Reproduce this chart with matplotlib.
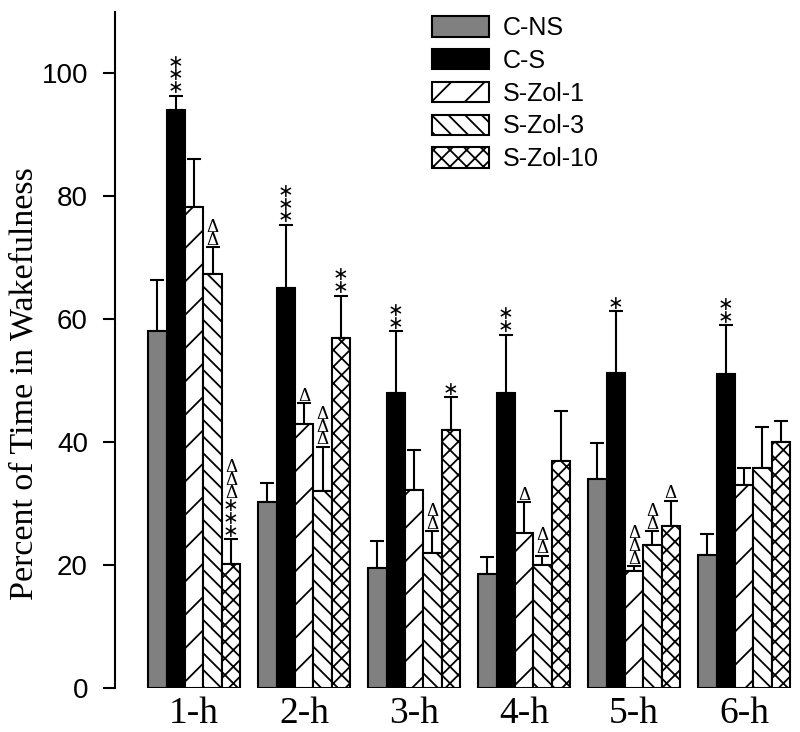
import numpy as np
import matplotlib
matplotlib.use('Agg')
import matplotlib.pyplot as plt

#Data (mean and length of upper error bar)
hours = ['1-h', '2-h', '3-h', '4-h', '5-h', '6-h']
groups = ['C-NS', 'C-S', 'S-Zol-1', 'S-Zol-3', 'S-Zol-10']

c_ns = [58.0, 30.2, 19.5, 18.6, 34.0, 21.6]
c_s = [94.0, 65.0, 48.0, 48.0, 51.2, 51.0]
zol1 = [78.3, 43.0, 32.2, 25.2, 19.0, 33.0]
zol3 = [67.3, 32.0, 22.0, 20.0, 23.3, 35.8]
zol10 = [20.2, 57.0, 42.0, 37.0, 26.3, 40.0]

c_ns_err = [8.3, 3.1, 4.5, 2.7, 5.8, 3.4]
c_s_err = [2.3, 10.3, 10.0, 9.5, 10.1, 8.0]
zol1_err = [7.7, 3.3, 6.6, 5.0, 0.8, 2.8]
zol3_err = [4.4, 7.2, 3.5, 1.5, 2.2, 6.7]
zol10_err = [4.0, 6.8, 5.3, 8.0, 4.2, 3.5]

#significance marks, bottom to top, per hour
c_s_marks = ['***', '***', '**', '**', '*', '**']
zol1_marks = ['', 'Δ', '', 'Δ', 'ΔΔΔ', '']
zol3_marks = ['ΔΔ', 'ΔΔΔ', 'ΔΔ', 'ΔΔ', 'ΔΔ', '']
zol10_marks = ['***ΔΔΔ', '**', '*', '', 'Δ', '']

plt.rcParams['hatch.linewidth'] = 1.3
plt.rcParams['font.family'] = ['Liberation Serif', 'DejaVu Serif']

fig = plt.figure(figsize = (8, 7.32), dpi = 100)
ax = fig.add_axes([0.144, 0.06, 0.846, 0.924])

x = np.arange(len(hours))
w = 0.167
means = [c_ns, c_s, zol1, zol3, zol10]
errs = [c_ns_err, c_s_err, zol1_err, zol3_err, zol10_err]
marks = [None, c_s_marks, zol1_marks, zol3_marks, zol10_marks]
colors = ['#808080', 'black', 'white', 'white', 'white']
hatches = [None, None, '/', '\\\\', 'xx']

for j in range(5):
    xs = x + (j - 2) * w
    ax.bar(xs, means[j], w, color = colors[j], edgecolor = 'black',
           linewidth = 1.5, hatch = hatches[j], label = groups[j], zorder = 2)
    ax.errorbar(xs, means[j], yerr = [np.zeros(6), errs[j]], fmt = 'none',
                ecolor = 'black', elinewidth = 1.5, capsize = 5, capthick = 1.5,
                zorder = 1)
    if marks[j] is None:
        continue
    for i in range(6):
        if marks[j][i] == '':
            continue
        top = means[j][i] + errs[j][i]
        s = '\n'.join(marks[j][i][::-1]).replace('*', '\u2217')
        ax.annotate(s, (xs[i], top), xytext = (0, -1),
                    textcoords = 'offset points', ha = 'center',
                    va = 'bottom', fontsize = 13.5, linespacing = 0.68,
                    family = ['Liberation Serif', 'DejaVu Sans'])

ax.set_xlim(-0.718, 5.436)
ax.set_ylim(0, 110)
ax.set_yticks([0, 20, 40, 60, 80, 100])
ax.set_xticks(x)
ax.set_xticklabels(hours, fontsize = 27)
for lab in ax.get_yticklabels():
    lab.set_family(['Liberation Sans', 'DejaVu Sans'])
    lab.set_fontsize(20)
ax.tick_params(axis = 'x', length = 0, pad = 6)
ax.tick_params(axis = 'y', length = 8.6, width = 1.5, direction = 'out', pad = 11)
ax.set_ylabel('Percent of Time in Wakefulness', fontsize = 24.5)
ax.yaxis.set_label_coords(-0.112, 0.45)
ax.spines['right'].set_color('none')
ax.spines['top'].set_color('none')
ax.spines['bottom'].set_color('none')
ax.spines['left'].set_linewidth(1.5)

fig.legend(loc = 'upper left', bbox_to_anchor = (0.54, 0.978), frameon = False,
           prop = {'family': ['Liberation Sans', 'DejaVu Sans'], 'size': 18},
           handlelength = 2.28, handleheight = 0.88, labelspacing = 0.35,
           handletextpad = 0.56, borderpad = 0, borderaxespad = 0)

fig.savefig('out.png', dpi = 100)
